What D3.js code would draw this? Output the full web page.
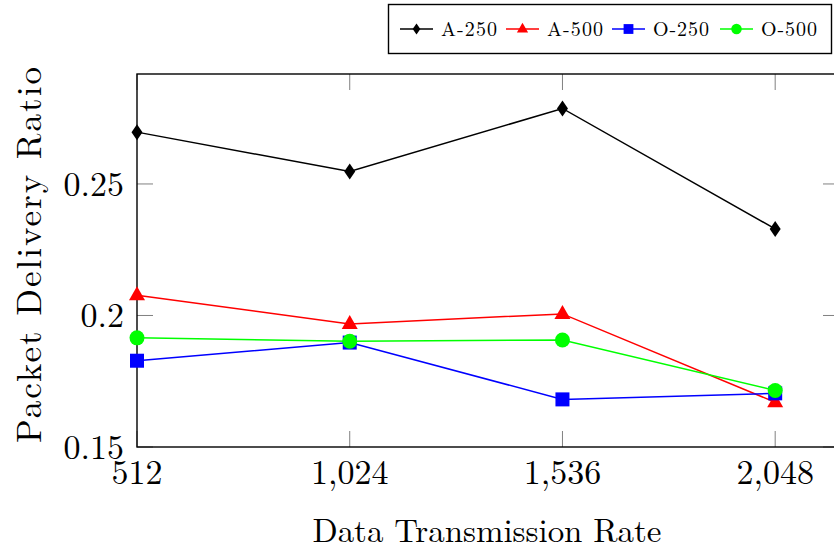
<!DOCTYPE html>
<html>
<head>
<meta charset="utf-8">
<script src="https://cdn.jsdelivr.net/npm/d3@7"></script>
<style>
  html, body { margin: 0; padding: 0; background: #fff; }
  svg { display: block; }
  text { font-family: "Latin Modern Roman", "CMU Serif", "Liberation Serif", serif; fill: #000; }
</style>
</head>
<body>
<svg id="chart" width="834" height="556"></svg>
<script>
// Data transmission rates (x) and packet delivery ratio per configuration
const rates = [512, 1024, 1536, 2048];
const a250 = [0.2697, 0.2547, 0.2787, 0.2329];
const a500 = [0.2077, 0.1968, 0.2006, 0.1670];
const o250 = [0.1828, 0.1897, 0.1681, 0.1704];
const o500 = [0.1915, 0.1902, 0.1907, 0.1715];
const xTicks = [512, 1024, 1536, 2048];
const yTicks = [0.15, 0.2, 0.25];

const seriesList = [
  { name: "A-250", values: a250, color: "#000000", marker: "diamond" },
  { name: "A-500", values: a500, color: "#ff0000", marker: "triangle" },
  { name: "O-250", values: o250, color: "#0000ff", marker: "square" },
  { name: "O-500", values: o500, color: "#00ff00", marker: "circle" }
];

const svg = d3.select("#chart");
const plot = { left: 137, top: 74, right: 839, bottom: 447 };

const x = d3.scaleLinear().domain([512, 2201.6]).range([plot.left, plot.right]);
const y = d3.scaleLinear().domain([0.15, 0.2918]).range([plot.bottom, plot.top]);

const fmtX = d3.format(",");
const fmtY = v => (v === 0.2 ? "0.2" : d3.format(".2f")(v));

// Tick marks (inside, mirrored on all four sides)
const tickLen = 16;
const ticks = svg.append("g").attr("stroke", "#808080").attr("stroke-width", 1);
xTicks.forEach(t => {
  ticks.append("line").attr("x1", x(t)).attr("x2", x(t)).attr("y1", plot.bottom).attr("y2", plot.bottom - tickLen);
  ticks.append("line").attr("x1", x(t)).attr("x2", x(t)).attr("y1", plot.top).attr("y2", plot.top + tickLen);
});
yTicks.forEach(t => {
  ticks.append("line").attr("x1", plot.left).attr("x2", plot.left + tickLen).attr("y1", y(t)).attr("y2", y(t));
  ticks.append("line").attr("x1", plot.right).attr("x2", plot.right - tickLen).attr("y1", y(t)).attr("y2", y(t));
});

// Axis frame
svg.append("rect")
  .attr("x", plot.left).attr("y", plot.top)
  .attr("width", plot.right - plot.left).attr("height", plot.bottom - plot.top)
  .attr("fill", "none").attr("stroke", "#000").attr("stroke-width", 1.4);

// Tick labels
svg.append("g").selectAll("text").data(xTicks).join("text")
  .attr("x", d => x(d)).attr("y", 484)
  .attr("text-anchor", "middle").attr("font-size", 34)
  .text(d => fmtX(d));

svg.append("g").selectAll("text").data(yTicks).join("text")
  .attr("x", 124).attr("y", d => y(d) + 12)
  .attr("text-anchor", "end").attr("font-size", 34)
  .text(d => fmtY(d));

// Axis titles
svg.append("text")
  .attr("x", 487).attr("y", 542)
  .attr("text-anchor", "middle").attr("font-size", 33)
  .attr("textLength", 349).attr("lengthAdjust", "spacing")
  .text("Data Transmission Rate");

svg.append("text")
  .attr("transform", "translate(41,255) rotate(-90)")
  .attr("text-anchor", "middle").attr("font-size", 35)
  .attr("textLength", 376).attr("lengthAdjust", "spacing")
  .text("Packet Delivery Ratio");

// Marker drawing
function drawMarker(g, type, cx, cy, color, scale) {
  const s = scale || 1;
  if (type === "diamond") {
    g.append("path")
      .attr("d", `M${cx},${cy - 8 * s} L${cx + 5.5 * s},${cy} L${cx},${cy + 8 * s} L${cx - 5.5 * s},${cy} Z`)
      .attr("fill", color);
  } else if (type === "triangle") {
    g.append("path")
      .attr("d", `M${cx},${cy - 9 * s} L${cx + 8 * s},${cy + 5 * s} L${cx - 8 * s},${cy + 5 * s} Z`)
      .attr("fill", color);
  } else if (type === "square") {
    g.append("rect")
      .attr("x", cx - 7 * s).attr("y", cy - 7 * s)
      .attr("width", 14 * s).attr("height", 14 * s)
      .attr("fill", color);
  } else {
    g.append("circle").attr("cx", cx).attr("cy", cy).attr("r", 7.5 * s).attr("fill", color);
  }
}

// Series lines and markers
const line = d3.line().x((d, i) => x(rates[i])).y(d => y(d));
seriesList.forEach(s => {
  const g = svg.append("g");
  g.append("path").datum(s.values)
    .attr("d", line).attr("fill", "none")
    .attr("stroke", s.color).attr("stroke-width", 1.5);
  s.values.forEach((v, i) => drawMarker(g, s.marker, x(rates[i]), y(v), s.color));
});

// Legend
const legend = svg.append("g");
legend.append("rect")
  .attr("x", 388.5).attr("y", 4.5).attr("width", 443).attr("height", 49)
  .attr("fill", "#fff").attr("stroke", "#000").attr("stroke-width", 1.4);
const legendX = [400, 506, 612, 720];
seriesList.forEach((s, i) => {
  const lx = legendX[i], ly = 29;
  legend.append("line")
    .attr("x1", lx).attr("x2", lx + 33).attr("y1", ly).attr("y2", ly)
    .attr("stroke", s.color).attr("stroke-width", 1.5);
  drawMarker(legend, s.marker, lx + 16.5, ly, s.color, 0.7);
  legend.append("text")
    .attr("x", lx + 41).attr("y", ly + 6.5)
    .attr("font-size", 20)
    .attr("textLength", 56).attr("lengthAdjust", "spacing")
    .text(s.name);
});
</script>
</body>
</html>
